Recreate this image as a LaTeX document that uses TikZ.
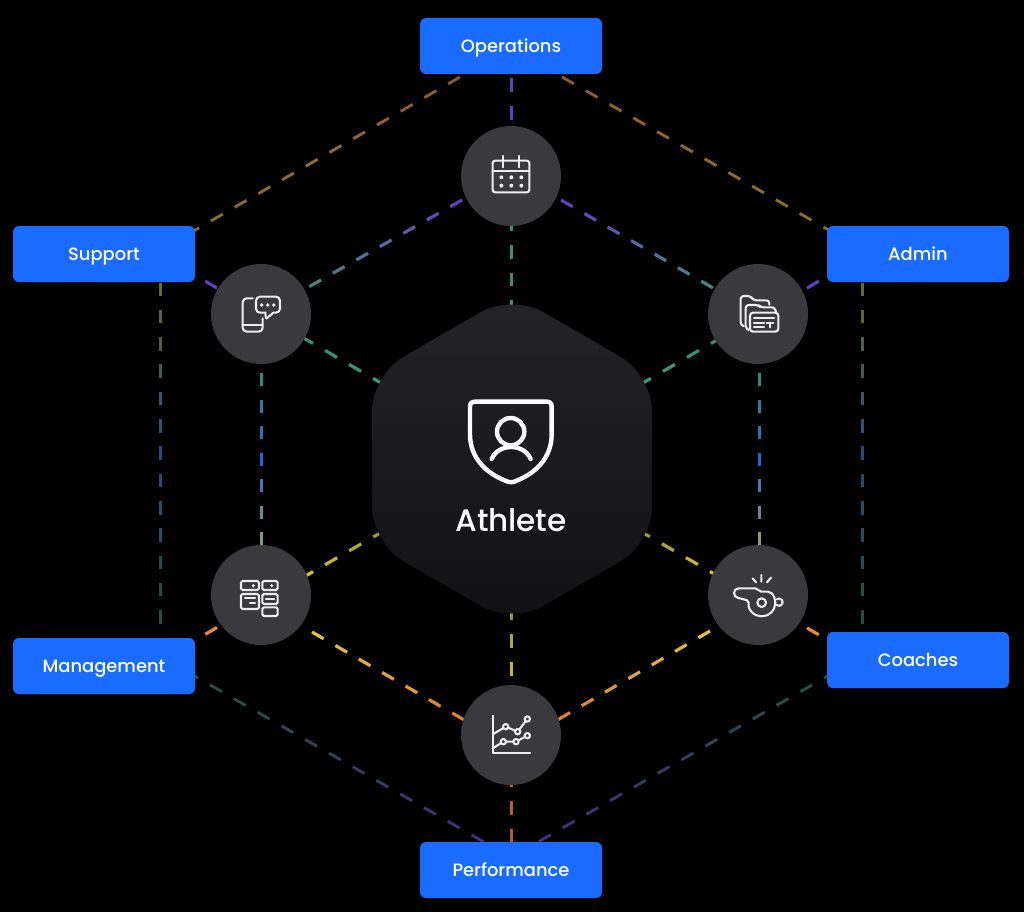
\documentclass[tikz,border=0pt]{standalone}
\usepackage{fontspec}
\usetikzlibrary{calc}
\newfontfamily\labfont{Poppins Medium}
\newfontfamily\bigfont{Poppins Medium}
\definecolor{boxblue}{HTML}{1A6BFF}
\definecolor{circgray}{HTML}{3A3A3E}
\definecolor{hextop}{HTML}{242427}
\definecolor{hexbot}{HTML}{111113}
\definecolor{iconw}{HTML}{EDEDED}
% connector colour stops
\definecolor{brA}{HTML}{8C5A2E}\definecolor{brB}{HTML}{8F6C2E}\definecolor{brC}{HTML}{7E702C}
\definecolor{ovA}{HTML}{6A6A2C}\definecolor{ovB}{HTML}{1F4D85}\definecolor{ovC}{HTML}{245236}
\definecolor{dkA}{HTML}{2B4F3F}\definecolor{dkB}{HTML}{333F5C}\definecolor{dkC}{HTML}{3C3478}
\definecolor{puA}{HTML}{5E42B8}\definecolor{puB}{HTML}{5A6AA5}\definecolor{puC}{HTML}{3E8F6E}
\definecolor{grA}{HTML}{3F8F68}\definecolor{grB}{HTML}{3E9272}\definecolor{grC}{HTML}{3C9A80}
\definecolor{tlA}{HTML}{2F8A80}\definecolor{tlB}{HTML}{2864D8}\definecolor{tlC}{HTML}{8A9E70}
\definecolor{ylA}{HTML}{D4C030}\definecolor{ylB}{HTML}{B8AE38}\definecolor{ylC}{HTML}{989A3E}
\definecolor{yoA}{HTML}{E0C23C}\definecolor{yoB}{HTML}{E0A23E}\definecolor{yoC}{HTML}{DC7E34}
\definecolor{vyA}{HTML}{8A9A48}\definecolor{vyB}{HTML}{B8B23A}\definecolor{vyC}{HTML}{D2C232}
\definecolor{orA}{HTML}{C46C2C}\definecolor{orB}{HTML}{B86228}\definecolor{orC}{HTML}{B05A28}
\definecolor{puS}{HTML}{5E42B8}\definecolor{puT}{HTML}{58409F}
\definecolor{osA}{HTML}{E48C3C}
\pgfdeclarelayer{lines}
\pgfsetlayers{lines,main}
\tikzset{
  dashpiece/.style={line width=#1,line cap=butt},
  bluebox/.style={fill=boxblue,rounded corners=6pt,minimum width=182pt,minimum height=56pt,inner sep=0pt,
    text=white,font=\labfont\fontsize{17.9}{20}\selectfont,text height=13pt,text depth=0.4pt},
  hub/.style={circle,fill=circgray,minimum size=100pt,inner sep=0pt},
  iconline/.style={draw=iconw,line width=2.1pt,line cap=round,line join=round},
  iconscope/.style={x=0.33333pt,y=-0.33333pt},
  shieldline/.style={draw=white,line width=4.4pt,line join=round,line cap=round}
}
% #1 width #2 period #3 from #4 to #5 count #6 #7 #8 colour stops
\newcommand{\gradconn}[8]{%
  \pgfmathtruncatemacro{\lastk}{#5-1}%
  \foreach \k in {0,...,\lastk}{%
    \pgfmathtruncatemacro{\pct}{\lastk>0 ? 200*\k/max(\lastk,1) : 0}%
    \ifnum\pct>100
      \pgfmathtruncatemacro{\qct}{\pct-100}\colorlet{dc}{#8!\qct!#7}%
    \else
      \colorlet{dc}{#7!\pct!#6}%
    \fi
    \pgfmathsetmacro{\sa}{\k*#2}%
    \pgfmathsetmacro{\sb}{\k*#2+0.5*#2}%
    \draw[dashpiece=#1,draw=dc] ($(#3)!\sa pt!(#4)$) -- ($(#3)!\sb pt!(#4)$);%
  }%
}
\begin{document}
\begin{tikzpicture}[x=1pt,y=-1pt]
\useasboundingbox (0,0) rectangle (1024,912);
\begin{pgfonlayer}{lines}
\fill[black] (0,0) rectangle (1024,912);
\end{pgfonlayer}

% boxes
\node[bluebox] (ops) at (511,46) {Operations};
\node[bluebox] (sup) at (104,254) {Support};
\node[bluebox] (adm) at (918,254) {Admin};
\node[bluebox] (mgt) at (104,666) {Management};
\node[bluebox] (coa) at (918,660) {Coaches};
\node[bluebox] (per) at (511,870) {Performance};

% hubs
\node[hub] (top) at (511,176) {};
\node[hub] (lft) at (261,314) {};
\node[hub] (rgt) at (758,314) {};
\node[hub] (lwl) at (261,595) {};
\node[hub] (lwr) at (758,595) {};
\node[hub] (bot) at (511,735) {};

% hexagon
\path[top color=hextop,bottom color=hexbot,rounded corners=36pt]
  (512,294) -- (652,375) -- (652,543) -- (512,624) -- (372,543) -- (372,375) -- cycle;
\coordinate (hexU) at (512,459);
\coordinate (hexL) at (512,457);
\node[text=white,font=\bigfont\fontsize{31}{34}\selectfont,anchor=base] (ath) at (511,531.5) {Athlete};

% connector end points (where the lines meet the nodes)
\coordinate (opsSW) at (460,77);   \coordinate (supNE) at (191,232.5);
\coordinate (opsSE) at (562,77);   \coordinate (admNW) at (833,232.5);
\coordinate (supS) at (160.5,282.5); \coordinate (mgtN) at (160.5,640);
\coordinate (admS) at (862.5,282.5); \coordinate (coaN) at (862.5,634);
\coordinate (mgtSE) at (186.3,671.3); \coordinate (perW) at (484,842);
\coordinate (coaSW) at (836,671.3);   \coordinate (perE) at (538,842);
\coordinate (opsS) at (511.5,78);    \coordinate (topN) at (511.5,130);
\coordinate (topS) at (511.5,190);   \coordinate (hexN) at (511.5,320);
\coordinate (hexS) at (511.5,606);   \coordinate (botN) at (511.5,700);
\coordinate (botS) at (511.5,773);   \coordinate (perN) at (511.5,848);
\coordinate (topW) at (462,200);   \coordinate (topE) at (561,200);
\coordinate (lftNW) at (217,288);  \coordinate (supSE) at (190,272.4);
\coordinate (rgtNE) at (807,288);  \coordinate (admSW) at (834,272.4);
\coordinate (lwlSW) at (217,627.5); \coordinate (mgtNE) at (190,643);
\coordinate (lwrSE) at (807,628);   \coordinate (coaNW) at (834,643.5);
\coordinate (lftS) at (261.5,373);  \coordinate (lwlN) at (261.5,560);
\coordinate (rgtS) at (759.5,373);  \coordinate (lwrN) at (759.5,560);
\coordinate (lftE) at (301,336.5);  \coordinate (rgtW) at (723,336.5);
\coordinate (lwlE) at (301,578.6);  \coordinate (lwrW) at (722,578.5);
\coordinate (lwlSE) at (312,632);   \coordinate (botA) at (511,747);
\coordinate (lwrSW) at (710,631);

\begin{pgfonlayer}{lines}
% outer ring
\gradconn{2.9pt}{27.4}{opsSW}{supNE}{12}{brA}{brB}{brC}
\gradconn{2.9pt}{27.4}{opsSE}{admNW}{12}{brA}{brB}{brC}
\gradconn{3pt}{27.3}{supS}{mgtN}{13}{ovA}{ovB}{ovC}
\gradconn{3pt}{27.3}{admS}{coaN}{13}{ovA}{ovB}{ovC}
\gradconn{2.9pt}{27.4}{mgtSE}{perW}{13}{dkA}{dkB}{dkC}
\gradconn{2.9pt}{27.4}{coaSW}{perE}{13}{dkA}{dkB}{dkC}
% spokes on the vertical axis
\gradconn{3pt}{28}{opsS}{topN}{2}{puS}{puS}{puS}
\gradconn{3pt}{27.5}{topS}{hexN}{5}{grA}{grA}{grB}
\gradconn{3pt}{28}{hexS}{botN}{4}{vyA}{vyB}{vyC}
\gradconn{3pt}{28}{botS}{perN}{3}{orA}{orB}{orC}
% inner ring
\gradconn{3.2pt}{27}{topW}{lft}{8}{puA}{puB}{puC}
\gradconn{3.2pt}{27}{topE}{rgt}{8}{puA}{puB}{puC}
\gradconn{3pt}{26.5}{lftS}{lwlN}{7}{tlA}{tlB}{tlC}
\gradconn{3pt}{26.5}{rgtS}{lwrN}{7}{tlA}{tlB}{tlC}
\gradconn{3.2pt}{27}{lwlSE}{botA}{7}{yoA}{yoB}{yoC}
\gradconn{3.2pt}{27}{lwrSW}{botA}{7}{yoA}{yoB}{yoC}
% short links to boxes
\gradconn{3.2pt}{27}{lftNW}{supSE}{1}{puS}{puS}{puS}
\gradconn{3.2pt}{27}{rgtNE}{admSW}{1}{puS}{puS}{puS}
\gradconn{3.2pt}{27}{lwlSW}{mgtNE}{1}{osA}{osA}{osA}
\gradconn{3.2pt}{27}{lwrSE}{coaNW}{1}{osA}{osA}{osA}
% spokes to hexagon
\gradconn{3.2pt}{27.8}{lftE}{hexU}{4}{grA}{grB}{grC}
\gradconn{3.2pt}{27.8}{rgtW}{hexU}{4}{grA}{grB}{grC}
\gradconn{3.2pt}{27.8}{lwlE}{hexL}{4}{ylA}{ylB}{ylC}
\gradconn{3.2pt}{27.8}{lwrW}{hexL}{4}{ylA}{ylB}{ylC}
\end{pgfonlayer}

% calendar
\begin{scope}[shift={(440,110)},iconscope]
  \draw[iconline,rounded corners=2.5pt] (158,152) rectangle (268,247);
  \draw[iconline] (158,183) -- (268,183);
  \draw[iconline] (188,138) -- (188,172) (238,138) -- (238,172);
  \foreach \dx in {184,214,244}\foreach \dy in {202,227}
    \fill[iconw] (\dx,\dy) circle[radius=6];
\end{scope}
% phone and speech bubble
\begin{scope}[shift={(190,250)},iconscope]
  \draw[iconline,rounded corners=4pt] (188,145) -- (158,145) -- (158,245) -- (218,245) -- (218,205);
  \draw[iconline] (158,225) -- (218,225);
  \draw[iconline,rounded corners=4pt] (198,165) -- (198,140) -- (270,140) -- (270,188) -- (250,188);
  \draw[iconline,rounded corners=1pt] (250,188) -- (228,207) -- (226,188);
  \draw[iconline,rounded corners=4pt] (226,188) -- (198,188) -- (198,165);
  \foreach \dx in {215,233,251}\fill[iconw] (\dx,165) circle[radius=5.5];
\end{scope}
% folders
\begin{scope}[shift={(690,250)},iconscope]
  \draw[iconline,rounded corners=3pt] (160,228) -- (152,226) -- (152,138) -- (182,138) -- (190,151) -- (238,151) -- (238,164);
  \draw[iconline,rounded corners=3pt] (176,240) -- (167,236) -- (167,165) -- (205,165) -- (212,172) -- (254,172) -- (258,186);
  \draw[iconline,rounded corners=3pt] (180,188) rectangle (265,245);
  \draw[iconline] (192,205) -- (252,205) (192,218) -- (222,218) (192,232) -- (222,232)
    (230,218) -- (250,218) (240,218) -- (240,232);
\end{scope}
% blocks
\begin{scope}[shift={(190,535)},iconscope]
  \draw[iconline,rounded corners=1.5pt] (153,138) rectangle (207,165);
  \draw[iconline,rounded corners=1.5pt] (217,138) rectangle (263,165);
  \draw[iconline,rounded corners=1.5pt] (153,177) rectangle (207,222);
  \draw[iconline,rounded corners=1.5pt] (217,177) rectangle (263,207);
  \draw[iconline,rounded corners=1.5pt] (217,217) rectangle (263,243);
  \fill[iconw] (190,152) circle[radius=5] (245,152) circle[radius=5];
  \draw[iconline] (165,190) -- (195,190) (180,203) -- (195,203) (228,192) -- (252,192);
\end{scope}
% whistle
\begin{scope}[shift={(690,535)},iconscope]
  \draw[iconline,rounded corners=2pt] (245,175) -- (240,170) -- (208,170) -- (202,160) -- (140,160) -- (132,168) -- (132,180) -- (138,187) -- (176,197) -- (176,215);
  \draw[iconline] (245,175) arc[start angle=-43,end angle=163,radius=41];
  \draw[iconline] (215,203) circle[radius=13];
  \draw[iconline] (260,193) arc[start angle=-130,end angle=130,radius=11];
  \draw[iconline] (188,130) -- (198,142) (214,120) -- (214,140) (243,128) -- (231,142);
\end{scope}
% chart
\begin{scope}[shift={(440,675)},iconscope]
  \draw[iconline] (158,122) -- (158,235) -- (270,235);
  \draw[iconline] (158,178) -- (197,155) -- (233,170) -- (262,132);
  \draw[iconline] (158,220) -- (190,200) -- (228,200) -- (262,182);
  \foreach \cx/\cy in {197/155,233/170,262/132,190/200,228/200,262/182}
    \draw[iconline,fill=circgray] (\cx,\cy) circle[radius=8];
\end{scope}
% shield and person
\begin{scope}[shift={(360,295)},iconscope]
  \draw[shieldline] (345,320) -- (560,320) .. controls (570,320) and (575,325) .. (575,335)
    -- (575,418) .. controls (575,490) and (525,535) .. (470,557)
    .. controls (460,563) and (446,563) .. (436,557)
    .. controls (380,535) and (330,490) .. (330,418)
    -- (330,335) .. controls (330,325) and (335,320) .. (345,320) -- cycle;
  \draw[shieldline] (452,410) circle[radius=41];
  \draw[shieldline] (395,492) .. controls (415,444) and (492,444) .. (512,492);
\end{scope}
\end{tikzpicture}
\end{document}
